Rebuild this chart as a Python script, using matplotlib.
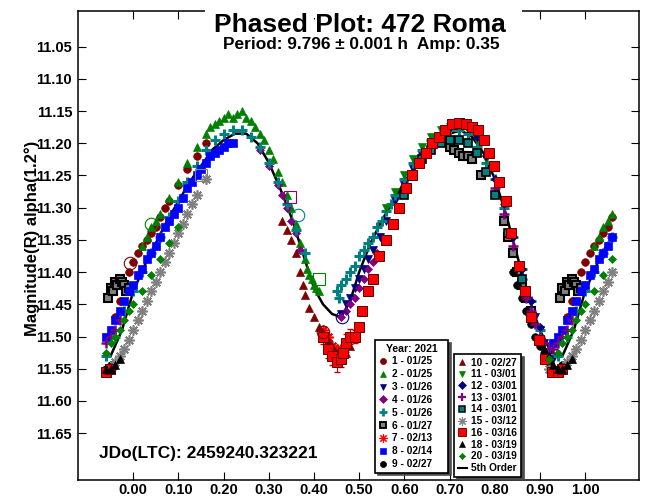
import matplotlib.pyplot as plt
from matplotlib.lines import Line2D
from matplotlib.patches import Rectangle
import numpy as np

plt.rcParams['font.family'] = ['Liberation Sans', 'DejaVu Sans']
plt.rcParams['font.weight'] = 'bold'

# session labels (year 2021)
labels = ['1 - 01/25', '2 - 01/25', '3 - 01/26', '4 - 01/26', '5 - 01/26',
          '6 - 01/27', '7 - 02/13', '8 - 02/14', '9 - 02/27', '10 - 02/27',
          '11 - 03/01', '12 - 03/01', '13 - 03/01', '14 - 03/01', '15 - 03/12',
          '16 - 03/16', '18 - 03/19', '20 - 03/19']

# phase / magnitude per session
s1_phase = [0.96, 0.97, 0.98, 0.99, 0.00, 0.01, 0.02, 0.03, 0.04, 0.05, 0.06, 0.07, 0.08, 0.10, 0.12, 0.14, 0.16]
s1_mag = [11.47, 11.445, 11.42, 11.40, 11.385, 11.37, 11.36, 11.35, 11.34, 11.33, 11.315, 11.30, 11.29, 11.265, 11.24, 11.22, 11.20]

s2_phase = [0.02, 0.03, 0.04, 0.05, 0.06, 0.08, 0.10, 0.12, 0.14, 0.16, 0.17, 0.18, 0.19, 0.20, 0.21, 0.22, 0.23, 0.24,
            0.25, 0.26, 0.27, 0.28, 0.29, 0.30, 0.31, 0.32, 0.33, 0.34, 0.35, 0.36, 0.37, 0.38, 0.385, 0.39, 0.395, 0.40,
            0.405, 0.41]
s2_mag = [11.36, 11.345, 11.33, 11.32, 11.31, 11.285, 11.26, 11.23, 11.205, 11.185, 11.175, 11.17, 11.165, 11.16, 11.155,
          11.16, 11.155, 11.15, 11.16, 11.165, 11.175, 11.185, 11.195, 11.21, 11.225, 11.245, 11.26, 11.28, 11.30, 11.325,
          11.355, 11.38, 11.395, 11.405, 11.41, 11.42, 11.425, 11.43]

s3_phase = [0.46, 0.47, 0.48, 0.49, 0.50, 0.51, 0.52, 0.53, 0.545, 0.56, 0.58, 0.60, 0.62, 0.64,
            0.89, 0.90, 0.91, 0.92, 0.93]
s3_mag = [11.465, 11.45, 11.44, 11.425, 11.41, 11.395, 11.38, 11.365, 11.345, 11.32, 11.29, 11.265, 11.24, 11.22,
          11.47, 11.49, 11.51, 11.525, 11.535]

s4_phase = [0.28, 0.30, 0.32, 0.33, 0.34, 0.35, 0.36, 0.37, 0.46, 0.47, 0.48, 0.49, 0.50, 0.51, 0.52, 0.53, 0.54]
s4_mag = [11.21, 11.235, 11.265, 11.28, 11.30, 11.32, 11.34, 11.365, 11.47, 11.46, 11.45, 11.44, 11.425, 11.41, 11.395,
          11.385, 11.37]

s5_phase = [0.98, 0.00, 0.02, 0.04, 0.06, 0.08, 0.10, 0.12, 0.14, 0.16, 0.18, 0.20, 0.22, 0.24, 0.26, 0.28, 0.30, 0.32,
            0.34, 0.36, 0.38, 0.45, 0.455, 0.46, 0.47, 0.48, 0.49, 0.50, 0.51, 0.52, 0.53, 0.54, 0.55, 0.56, 0.57, 0.58,
            0.60, 0.62, 0.64, 0.66, 0.68, 0.70, 0.72, 0.74, 0.76, 0.78, 0.80, 0.82, 0.84, 0.86, 0.88, 0.90, 0.92, 0.94,
            0.96]
s5_mag = [11.46, 11.43, 11.40, 11.37, 11.345, 11.315, 11.29, 11.26, 11.235, 11.21, 11.195, 11.185, 11.18, 11.18, 11.19,
          11.205, 11.23, 11.26, 11.295, 11.335, 11.37, 11.43, 11.44, 11.42, 11.41, 11.40, 11.39, 11.375, 11.365, 11.355,
          11.345, 11.33, 11.32, 11.305, 11.295, 11.28, 11.255, 11.23, 11.21, 11.195, 11.185, 11.18, 11.18, 11.185,
          11.205, 11.23, 11.255, 11.30, 11.345, 11.395, 11.445, 11.49, 11.52, 11.53, 11.50]

s6_phase = [0.945, 0.95, 0.955, 0.96, 0.965, 0.97, 0.975, 0.98, 0.985, 0.99, 0.70, 0.71, 0.72, 0.73, 0.74, 0.75, 0.77,
            0.82, 0.83, 0.84, 0.85, 0.86, 0.87, 0.88]
s6_mag = [11.44, 11.425, 11.43, 11.415, 11.42, 11.41, 11.415, 11.42, 11.43, 11.425, 11.205, 11.21, 11.215, 11.22, 11.22,
          11.225, 11.25, 11.32, 11.345, 11.37, 11.40, 11.42, 11.44, 11.46]

s7_phase = [0.42, 0.43, 0.44, 0.45, 0.46, 0.47]
s7_mag = [11.49, 11.50, 11.515, 11.52, 11.52, 11.51]

s8_phase = [0.93, 0.94, 0.95, 0.96, 0.97, 0.98, 0.99, 0.00, 0.01, 0.02, 0.03, 0.04, 0.05, 0.06, 0.07, 0.08, 0.09, 0.10,
            0.11, 0.12, 0.13, 0.14, 0.15, 0.16, 0.17, 0.18, 0.19, 0.20, 0.21, 0.22]
s8_mag = [11.51, 11.50, 11.49, 11.475, 11.46, 11.445, 11.43, 11.42, 11.405, 11.395, 11.38, 11.37, 11.36, 11.345, 11.33,
          11.32, 11.31, 11.30, 11.285, 11.27, 11.26, 11.25, 11.24, 11.23, 11.22, 11.215, 11.21, 11.205, 11.20, 11.20]

s9_phase = [0.84, 0.85, 0.86, 0.87, 0.88, 0.89, 0.90, 0.91, 0.92, 0.93, 0.94, 0.95]
s9_mag = [11.40, 11.42, 11.44, 11.46, 11.48, 11.50, 11.515, 11.53, 11.54, 11.55, 11.55, 11.545]

s10_phase = [0.33, 0.34, 0.35, 0.36, 0.37, 0.375, 0.38, 0.39, 0.40, 0.41, 0.42, 0.43, 0.44, 0.45, 0.46, 0.47, 0.48]
s10_mag = [11.32, 11.335, 11.35, 11.37, 11.40, 11.42, 11.435, 11.455, 11.47, 11.485, 11.495, 11.505, 11.515, 11.525,
           11.53, 11.525, 11.515]

s11_phase = [0.56, 0.58, 0.60, 0.62, 0.64, 0.66, 0.68, 0.70, 0.72, 0.74, 0.76, 0.78]
s11_mag = [11.30, 11.275, 11.25, 11.225, 11.205, 11.19, 11.18, 11.175, 11.175, 11.18, 11.195, 11.225]

s12_phase = [0.66, 0.68, 0.70, 0.72, 0.74, 0.76, 0.78, 0.80, 0.82, 0.84, 0.86, 0.88, 0.90]
s12_mag = [11.20, 11.185, 11.175, 11.17, 11.175, 11.19, 11.22, 11.255, 11.295, 11.345, 11.395, 11.445, 11.485]

s13_phase = [0.80, 0.82, 0.84, 0.86, 0.87, 0.88, 0.89, 0.90, 0.91, 0.92, 0.93, 0.94, 0.95, 0.96, 0.97]
s13_mag = [11.27, 11.31, 11.36, 11.41, 11.44, 11.46, 11.48, 11.50, 11.51, 11.52, 11.52, 11.51, 11.50, 11.49, 11.475]

s14_phase = [0.60, 0.62, 0.64, 0.66, 0.68, 0.70, 0.72, 0.74, 0.76, 0.78, 0.80, 0.83, 0.86]
s14_mag = [11.28, 11.25, 11.225, 11.21, 11.20, 11.195, 11.195, 11.20, 11.215, 11.245, 11.28, 11.34, 11.41]

s15_phase = [0.92, 0.93, 0.94, 0.95, 0.96, 0.97, 0.98, 0.99, 0.00, 0.01, 0.02, 0.03, 0.04, 0.05, 0.06, 0.07, 0.08,
             0.09, 0.10, 0.11, 0.12, 0.13, 0.14, 0.16]
s15_mag = [11.55, 11.555, 11.555, 11.55, 11.54, 11.53, 11.52, 11.505, 11.49, 11.475, 11.46, 11.445, 11.43, 11.415,
           11.40, 11.385, 11.37, 11.355, 11.34, 11.325, 11.31, 11.295, 11.28, 11.255]

s16_phase = [0.42, 0.43, 0.44, 0.45, 0.46, 0.465, 0.47, 0.48, 0.49, 0.50, 0.507, 0.52, 0.53, 0.544, 0.56, 0.575, 0.588,
             0.603, 0.617, 0.632, 0.647, 0.662, 0.676, 0.69, 0.705, 0.72, 0.736, 0.75, 0.764, 0.776, 0.787, 0.798,
             0.809, 0.824, 0.837, 0.853, 0.868, 0.881, 0.897, 0.912, 0.926, 0.94, 0.948]
s16_mag = [11.50, 11.52, 11.53, 11.54, 11.535, 11.525, 11.51, 11.50, 11.50, 11.485, 11.46, 11.43, 11.41, 11.375, 11.35,
           11.325, 11.30, 11.27, 11.25, 11.23, 11.215, 11.20, 11.19, 11.18, 11.17, 11.168, 11.17, 11.175, 11.18,
           11.195, 11.215, 11.235, 11.26, 11.29, 11.34, 11.39, 11.43, 11.47, 11.505, 11.535, 11.555, 11.555, 11.55]
# error bars seen around the faint minimum (first points of session 16)
s16_err = [0.012, 0.014, 0.015, 0.015, 0.013, 0.012, 0.014, 0.012, 0.010]

s18_phase = [0.91, 0.92, 0.93, 0.94, 0.95, 0.96, 0.97]
s18_mag = [11.52, 11.53, 11.545, 11.55, 11.55, 11.545, 11.535]

s20_phase = [0.92, 0.94, 0.95, 0.96, 0.97, 0.98, 0.99, 0.00, 0.02, 0.04, 0.06, 0.08, 0.10]
s20_mag = [11.535, 11.525, 11.51, 11.50, 11.49, 11.475, 11.46, 11.45, 11.43, 11.405, 11.38, 11.355, 11.33]

# a few highlighted (hollow) points
flag_phase = [-0.008, 0.04, 0.364, 0.463, 0.419, 0.15, 0.347, 0.41]
flag_mag = [11.386, 11.326, 11.311, 11.47, 11.493, 11.25, 11.283, 11.41]
flag_color = ['#800000', '#008000', '#008080', '#000080', '#800000', '#808080', '#800080', '#008000']
flag_marker = ['o', 'o', 'o', 'o', 'o', 's', 's', 's']

# 5th order fit curve
fit_phase = [0.00, 0.025, 0.05, 0.075, 0.10, 0.125, 0.15, 0.175, 0.20, 0.225, 0.25, 0.275, 0.30, 0.325, 0.35, 0.375,
             0.40, 0.42, 0.44, 0.46, 0.48, 0.50, 0.525, 0.55, 0.575, 0.60, 0.625, 0.65, 0.675, 0.70, 0.725, 0.75,
             0.775, 0.80, 0.825, 0.85, 0.875, 0.90, 0.925, 0.95, 0.975, 1.00]
fit_mag = [11.43, 11.39, 11.355, 11.32, 11.29, 11.26, 11.235, 11.21, 11.195, 11.185, 11.185, 11.20, 11.23, 11.27, 11.315,
           11.37, 11.425, 11.45, 11.465, 11.47, 11.445, 11.40, 11.355, 11.32, 11.29, 11.26, 11.235, 11.21, 11.195,
           11.185, 11.18, 11.19, 11.215, 11.255, 11.31, 11.375, 11.44, 11.49, 11.525, 11.53, 11.49, 11.43]

x_ticks = [0.0, 0.1, 0.2, 0.3, 0.4, 0.5, 0.6, 0.7, 0.8, 0.9, 1.0]
y_ticks = [11.05, 11.10, 11.15, 11.20, 11.25, 11.30, 11.35, 11.40, 11.45, 11.50, 11.55, 11.60, 11.65]

phases = [s1_phase, s2_phase, s3_phase, s4_phase, s5_phase, s6_phase, s7_phase, s8_phase, s9_phase,
          s10_phase, s11_phase, s12_phase, s13_phase, s14_phase, s15_phase, s16_phase, s18_phase, s20_phase]
mags = [s1_mag, s2_mag, s3_mag, s4_mag, s5_mag, s6_mag, s7_mag, s8_mag, s9_mag,
        s10_mag, s11_mag, s12_mag, s13_mag, s14_mag, s15_mag, s16_mag, s18_mag, s20_mag]

star = (8, 2, 0)
# marker, face, edge, size, edge width
styles = [
    ('o', '#800000', '#800000', 5.5, 0.5),
    ('^', '#008000', '#008000', 6, 0.5),
    ('v', '#000080', '#000080', 6, 0.5),
    ('D', '#800080', '#800080', 4.5, 0.5),
    ('+', '#008080', '#008080', 7.5, 2.2),
    ('s', '#808080', '#000000', 6, 1.5),
    (star, '#ff0000', '#ff0000', 7.5, 1.2),
    ('s', '#0000ff', '#0000ff', 6, 0.5),
    ('o', '#000000', '#000000', 5.5, 0.5),
    ('^', '#800000', '#800000', 6, 0.5),
    ('v', '#008000', '#008000', 6, 0.5),
    ('D', '#000080', '#000080', 4.5, 0.5),
    ('+', '#800080', '#800080', 7.5, 1.8),
    ('s', '#008080', '#000000', 6, 1.2),
    (star, '#808080', '#808080', 7.5, 1.2),
    ('s', '#ff0000', '#600000', 6.5, 0.7),
    ('^', '#000000', '#000000', 6, 0.5),
    ('D', '#008000', '#008000', 4, 0.5),
]


def wrap(ph, mg):
    # repeat the ends of the cycle on both sides, as phased plots do
    ph = np.array(ph)
    mg = np.array(mg)
    lo = ph > 0.93
    hi = ph < 0.065
    return np.concatenate([ph, ph[lo] - 1, ph[hi] + 1]), np.concatenate([mg, mg[lo], mg[hi]])


fig = plt.figure(figsize=(6.46, 4.97), dpi=100)
ax = fig.add_axes([77.7 / 646, 1 - 480 / 497, (639.3 - 77.7) / 646, (480 - 11) / 497])

fx, fy = wrap(fit_phase, fit_mag)
order = np.argsort(fx)
ax.plot(fx[order], fy[order], color='black', lw=1.8, zorder=1)

# error bars on the faint minimum
n_err = len(s16_err)
ax.errorbar(s16_phase[:n_err], s16_mag[:n_err], yerr=s16_err, fmt='none', ecolor='#c00000', elinewidth=0.8,
            capsize=2.5, zorder=1.5)

handles = []
for ph, mg, lab, (mk, fc, ec, ms, mew) in zip(phases, mags, labels, styles):
    x, y = wrap(ph, mg)
    ax.plot(x, y, ls='none', marker=mk, mfc=fc, mec=ec, ms=ms, mew=mew, zorder=2)
    leg_mew = 0.8 if mk == star else mew * 0.9
    handles.append(Line2D([], [], ls='none', marker=mk, mfc=fc, mec=ec, ms=ms * 0.8, mew=leg_mew, label=lab))
handles.append(Line2D([], [], color='black', lw=1.5, label='5th Order'))

for px, py, c, mk in zip(flag_phase, flag_mag, flag_color, flag_marker):
    ax.plot(px, py, ls='none', marker=mk, mfc='none', mec=c, ms=9, mew=0.8, zorder=3)

ax.set_xlim(-0.123, 1.12)
ax.set_ylim(11.7228, 10.9946)
ax.set_xticks(x_ticks)
ax.set_xticklabels([f'{t:.2f}' for t in x_ticks])
ax.set_yticks(y_ticks)
ax.set_yticklabels([f'{t:.2f}' for t in y_ticks])
ax.tick_params(direction='in', length=6, width=0.8, top=True, right=True, labelsize=10.5, pad=4)
ax.tick_params(axis='x', pad=2)
for sp in ax.spines.values():
    sp.set_linewidth(1.1)

# white patch where the title breaks the top frame
fig.add_artist(Rectangle((205 / 646, 1 - 18 / 497), 317 / 646, 14 / 497, transform=fig.transFigure,
                         facecolor='white', edgecolor='none', zorder=5))
fig.text(32 / 646, 1 - 238 / 497, 'Magnitude(R) alpha(1.2°)', rotation=90, ha='center', va='center', fontsize=12)
fig.text(360 / 646, 1 - 32.5 / 497, 'Phased Plot: 472 Roma', ha='center', va='baseline', fontsize=19, zorder=6)
fig.text(361 / 646, 1 - 48.5 / 497, 'Period: 9.796 \u00b1 0.001 h  Amp: 0.35', ha='center', va='baseline',
         fontsize=12.4, zorder=6)
fig.text(99 / 646, 1 - 458 / 497, 'JDo(LTC): 2459240.323221', ha='left', va='baseline', fontsize=12.5)

leg_kw = dict(loc='upper left', bbox_transform=fig.transFigure, fontsize=7.3, frameon=True, fancybox=False,
              shadow={'color': '0.3', 'alpha': 1}, borderaxespad=0, handlelength=0.9, handletextpad=0.45,
              borderpad=0.35, edgecolor='black', framealpha=1, mode='expand')
leg1 = ax.legend(handles=handles[:9], bbox_to_anchor=(375 / 646, 1 - 474 / 497, 73 / 646, 134 / 497),
                 title='Year: 2021', title_fontproperties={'weight': 'bold', 'size': 7.6}, labelspacing=0.28,
                 **leg_kw)
leg1.get_frame().set_linewidth(1.2)
ax.add_artist(leg1)
leg2 = ax.legend(handles=handles[9:], bbox_to_anchor=(454 / 646, 1 - 474 / 497, 67 / 646, 120 / 497),
                 labelspacing=0.17, **leg_kw)
leg2.get_frame().set_linewidth(1.2)

fig.savefig('out.png', dpi=100)
